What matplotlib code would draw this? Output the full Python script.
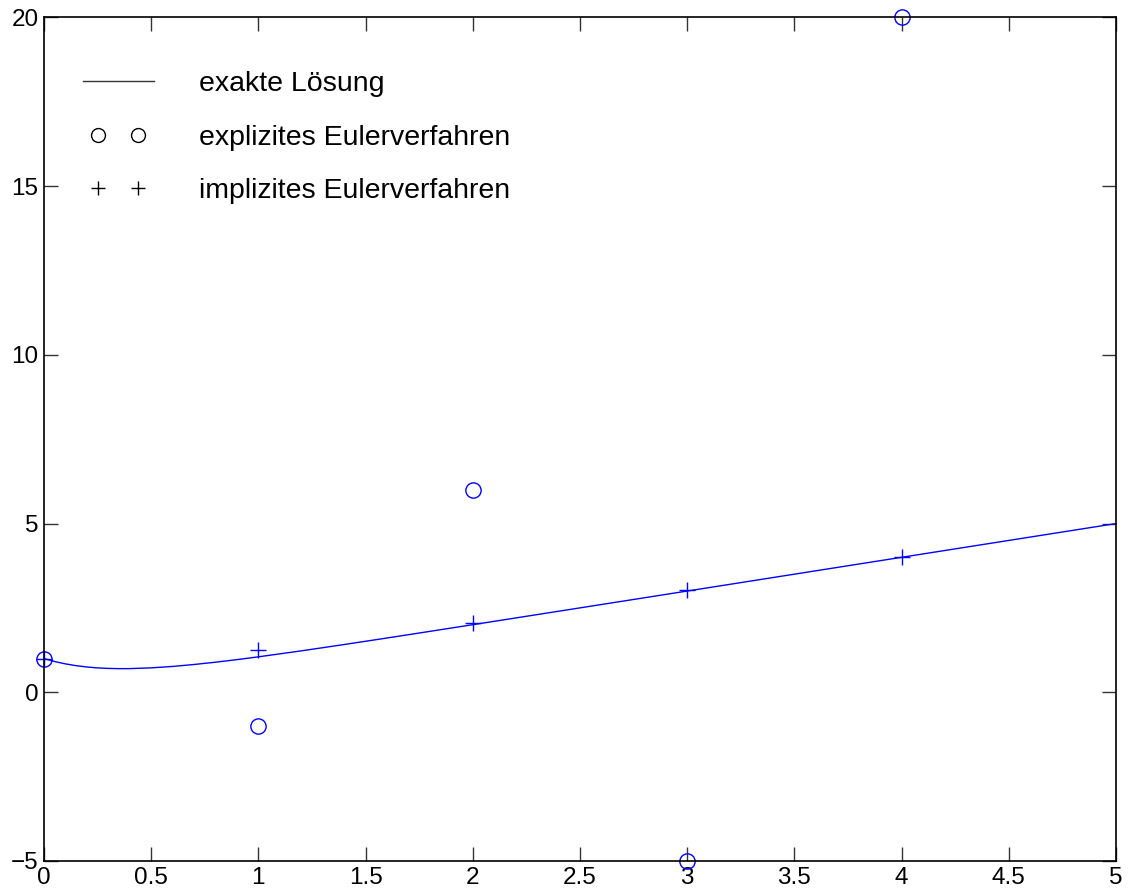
import matplotlib
matplotlib.use("Agg")
import matplotlib.pyplot as plt
from matplotlib.lines import Line2D
from matplotlib.legend_handler import HandlerLine2D

plt.rcParams['font.family'] = ['Liberation Sans', 'DejaVu Sans']

# exakte Loesung
t_exakt = [0, 0.05, 0.1, 0.15, 0.2, 0.25, 0.3, 0.35, 0.4, 0.5, 0.6, 0.7, 0.8, 0.9,
           1.0, 1.2, 1.4, 1.6, 1.8, 2.0, 2.5, 3.0, 4.0, 5.0]
y_exakt = [1.0, 0.911, 0.841, 0.788, 0.749, 0.722, 0.707, 0.700, 0.701, 0.723, 0.765,
           0.823, 0.891, 0.967, 1.050, 1.227, 1.415, 1.608, 1.805, 2.003, 2.501, 3.0, 4.0, 5.0]

# explizites Euler
t_expl = [0, 1, 2, 3, 4]
y_expl = [1, -1, 6, -5, 20]

# implizites Euler
t_impl = [0, 1, 2, 3, 4]
y_impl = [1, 1.25, 2.06, 3.02, 4.0]

xticks = [0, 0.5, 1, 1.5, 2, 2.5, 3, 3.5, 4, 4.5, 5]
xticklabels = ['0', '0.5', '1', '1.5', '2', '2.5', '3', '3.5', '4', '4.5', '5']
yticks = [-5, 0, 5, 10, 15, 20]
yticklabels = ['\u22125', '0', '5', '10', '15', '20']

fig = plt.figure(figsize=(11.33, 8.92), dpi=100)
ax = fig.add_axes([0.0388, 0.0348, 0.9462, 0.9456])

ax.plot(t_exakt, y_exakt, color='blue', lw=1.0, clip_on=False)
ax.plot(t_expl, y_expl, 'o', mfc='none', mec='blue', ms=11, mew=1.0, clip_on=False)
ax.plot(t_impl, y_impl, '+', color='blue', ms=11, mew=1.0, clip_on=False)

ax.set_xlim(0, 5)
ax.set_ylim(-5, 20)
ax.set_xticks(xticks)
ax.set_xticklabels(xticklabels)
ax.set_yticks(yticks)
ax.set_yticklabels(yticklabels)
ax.tick_params(direction='in', length=10, width=1, top=True, right=True,
               labelsize=17.5, pad=4, color='#333333')
for s in ax.spines.values():
    s.set_linewidth(1.2)

h_line = Line2D([], [], color='#333333', lw=1.0)
h_circ = Line2D([], [], ls='none', marker='o', mfc='none', mec='black', ms=10, mew=1.0)
h_plus = Line2D([], [], ls='none', marker='+', color='black', ms=10, mew=1.0)
labels = ['exakte L\u00f6sung', 'explizites Eulerverfahren', 'implizites Eulerverfahren']
ax.legend([h_line, h_circ, h_plus], labels, loc='upper left', bbox_to_anchor=(0.036, 0.937),
          frameon=False, numpoints=2, fontsize=20.5, handlelength=2.5,
          handletextpad=1.6, labelspacing=0.98, borderpad=0, borderaxespad=0,
          handler_map={h_line: HandlerLine2D(marker_pad=0),
                       h_circ: HandlerLine2D(marker_pad=0.55),
                       h_plus: HandlerLine2D(marker_pad=0.55)})

fig.savefig('out.png', dpi=100)
